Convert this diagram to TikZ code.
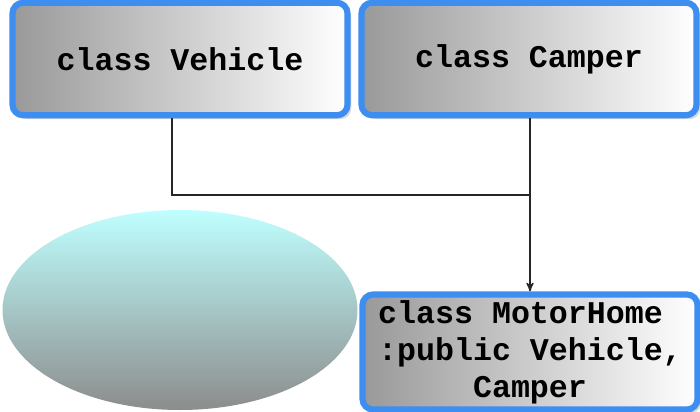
\documentclass[tikz,border=0pt]{standalone}
\usepackage{fontspec}
\setmonofont{Liberation Mono}
\usetikzlibrary{positioning,arrows,shapes.geometric,shadows}
\definecolor{boxblue}{HTML}{3D8EF0}
\tikzset{
>=stealth',
  classbox/.style={
    rectangle,
    rounded corners=6pt,
    draw=boxblue, line width=3.5pt,
    left color=black!40, right color=white,
    minimum width=6.7cm,
    minimum height=2.25cm,
    align=center,
    font=\ttfamily\bfseries\fontsize{18}{21}\selectfont,
    drop shadow={opacity=0.3}},
  line/.style={draw, thick, black!85},
}
\begin{document}
\begin{tikzpicture}
  \useasboundingbox (0,0) rectangle (14,8.22);
     \node[classbox] (vehicle) at (3.6,7.04) {class Vehicle};
     \node[classbox] (camper) at (10.58,7.04) {class Camper};
     \node[classbox, align=left] (motorhome) at (10.6,1.18) {class MotorHome\\:public Vehicle,\\\phantom{class}Camper};
     % picture of the motor home
     \node[ellipse, minimum width=7.1cm, minimum height=4cm,
       top color=cyan!25, bottom color=black!45, draw=none] (photo) at (3.6,2.02) {};
     \coordinate (join) at (motorhome.north |- 0,4.32);
     \draw[line] (vehicle.south -| 3.44,0) |- (join);
     \draw[line,->] (camper.south -| motorhome.north) -- (motorhome.north);
\end{tikzpicture}
\end{document}
